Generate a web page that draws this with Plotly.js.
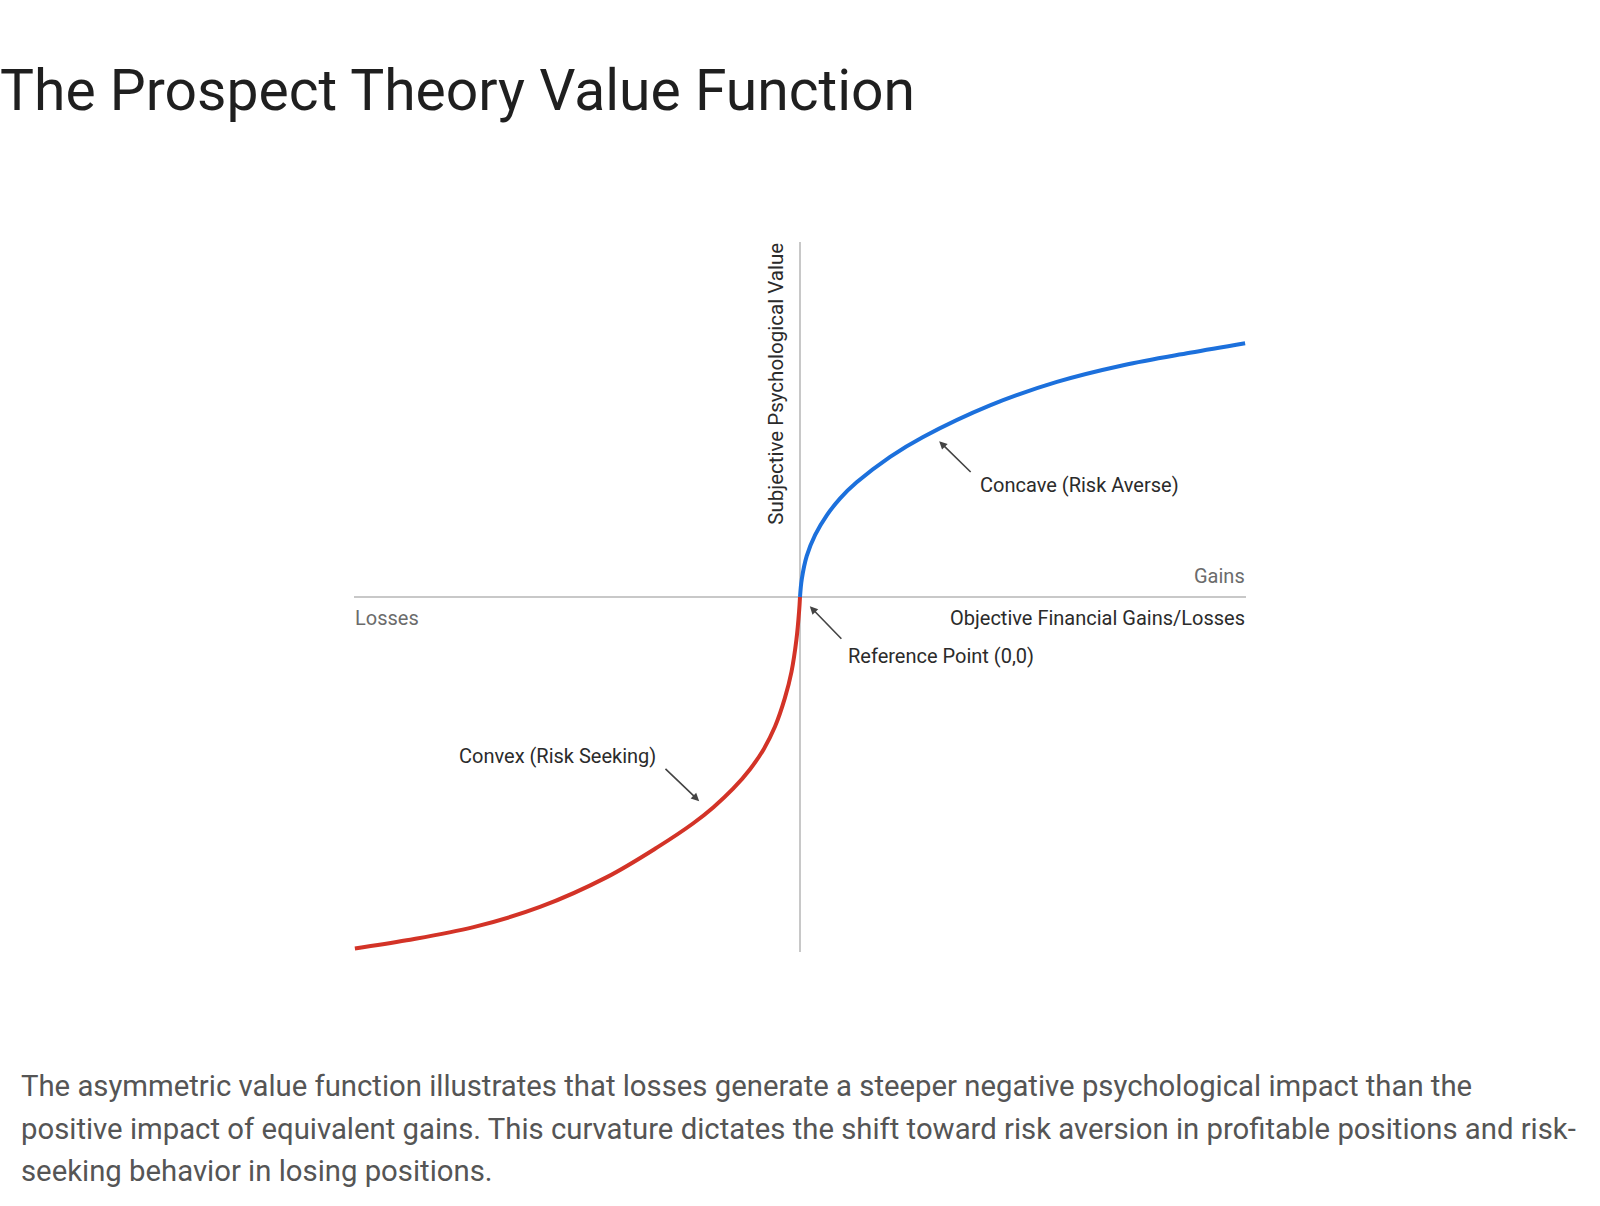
<!DOCTYPE html>
<html>
<head>
<meta charset="utf-8">
<script src="https://cdn.plot.ly/plotly-3.0.1.min.js"></script>
<style>
  html, body { margin: 0; padding: 0; background: #ffffff; }
  #chart { width: 1600px; height: 1206px; }
</style>
</head>
<body>
<div id="chart"></div>
<script>
// Values (axis units: -100..100 on both axes)
const gainsX  = [0, 0.4, 1.5, 3.4, 6.0, 9.0, 12.7, 20.2, 27.6, 42.6, 57.6, 72.5, 87.4, 99.8];
const gainsY  = [0, 5.0, 11.5, 17.5, 23.0, 27.8, 32.3, 39.5, 45.1, 54.0, 60.6, 65.3, 68.8, 71.5];
const lossesX = [0, -0.2, -0.8, -1.9, -3.4, -5.6, -8.2, -11.2, -15.0, -19.4, -24.0, -32.1, -43.3, -58.3, -73.2, -88.2, -99.8];
const lossesY = [0, -4.0, -12.0, -21.0, -28.5, -36.5, -43.0, -48.5, -54.0, -59.2, -63.8, -70.6, -78.9, -87.3, -93.0, -96.7, -99.0];

const titleText = "The Prospect Theory Value Function";
const yLabel = "Subjective Psychological Value";
const xLabel = "Objective Financial Gains/Losses";
const gainsLabel = "Gains";
const lossesLabel = "Losses";
const refLabel = "Reference Point (0,0)";
const concaveLabel = "Concave (Risk Averse)";
const convexLabel = "Convex (Risk Seeking)";
const captionLines = [
  "The asymmetric value function illustrates that losses generate a steeper negative psychological impact than the",
  "positive impact of equivalent gains. This curvature dictates the shift toward risk aversion in profitable positions and risk-",
  "seeking behavior in losing positions."
];

const FONT = "Roboto, 'Open Sans', sans-serif";

const traces = [
  { x: lossesX, y: lossesY, type: "scatter", mode: "lines",
    line: { color: "#d33327", width: 4, shape: "spline", smoothing: 1 }, hoverinfo: "skip" },
  { x: gainsX, y: gainsY, type: "scatter", mode: "lines",
    line: { color: "#1c70dc", width: 4, shape: "spline", smoothing: 1 }, hoverinfo: "skip" }
];

function label(text, x, y, xanchor, color, size, extra) {
  return Object.assign({
    text: text, x: x, y: y, xref: "x", yref: "y",
    xanchor: xanchor, yanchor: "middle", showarrow: false,
    font: { family: FONT, size: size, color: color }, borderpad: 0
  }, extra || {});
}
function arrow(hx, hy, tx, ty) {
  return {
    text: "", x: hx, y: hy, ax: tx, ay: ty, xref: "x", yref: "y",
    axref: "x", ayref: "y", showarrow: true, arrowhead: 2, arrowsize: 1,
    arrowwidth: 1.6, arrowcolor: "#444444", standoff: 0, startstandoff: 0
  };
}

const annotations = [
  label(gainsLabel, 100, 6.0, "right", "#6b6b6b", 20),
  label(lossesLabel, -100, -6.0, "left", "#6b6b6b", 20),
  label(xLabel, 100, -6.0, "right", "#2b2b2b", 20),
  label(refLabel, 10.5, -16.7, "left", "#2b2b2b", 20),
  label(concaveLabel, 40.1, 31.5, "left", "#2b2b2b", 20),
  label(convexLabel, -76.7, -44.9, "left", "#2b2b2b", 20),
  label(yLabel, -5.3, 60.2, "center", "#2b2b2b", 20.5, { textangle: -90 }),
  arrow(2.2, -2.6, 9.6, -12.2),
  arrow(31.2, 43.9, 38.6, 34.8),
  arrow(-22.6, -57.5, -30.5, -48.0)
];

const captionY = [1086, 1129, 1171];
captionLines.forEach(function (t, i) {
  annotations.push({
    text: t, xref: "paper", yref: "paper",
    x: (20 - 354) / 892, y: (952 - captionY[i]) / 710,
    xanchor: "left", yanchor: "middle", showarrow: false, align: "left",
    font: { family: FONT, size: 29.3, color: "#555555" }, borderpad: 0
  });
});

const axisCommon = {
  range: [-100, 100], showgrid: false, showticklabels: false, ticks: "",
  showline: false, zeroline: true, zerolinecolor: "#c8c8c8", zerolinewidth: 2,
  fixedrange: true
};

const layout = {
  width: 1600, height: 1206,
  margin: { l: 354, r: 354, t: 242, b: 254, pad: 0 },
  paper_bgcolor: "#ffffff", plot_bgcolor: "#ffffff",
  showlegend: false,
  title: {
    text: titleText, xref: "container", yref: "container",
    x: 0, xanchor: "left", y: 1 - 90 / 1206, yanchor: "middle",
    pad: { l: 0, t: 0, b: 0, r: 0 },
    font: { family: FONT, size: 57, color: "#1f1f1f" }
  },
  xaxis: Object.assign({}, axisCommon),
  yaxis: Object.assign({}, axisCommon),
  annotations: annotations
};

Plotly.newPlot("chart", traces, layout, { displayModeBar: false, staticPlot: true });
</script>
</body>
</html>
